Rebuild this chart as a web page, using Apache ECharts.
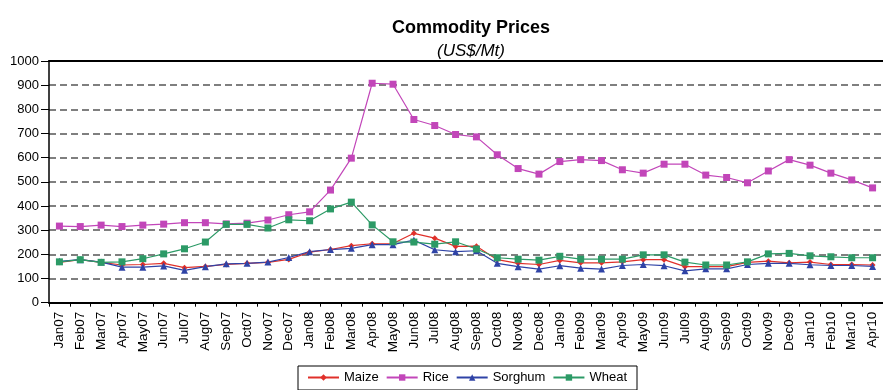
<!DOCTYPE html>
<html>
<head>
<meta charset="utf-8">
<script src="https://cdn.jsdelivr.net/npm/echarts@6/dist/echarts.min.js"></script>
<style>
  html, body { margin: 0; padding: 0; background: #fff; }
  #chart { width: 883px; height: 390px; }
</style>
</head>
<body>
<div id="chart"></div>
<script>
// Monthly commodity prices, US$ per metric tonne, Jan 2007 – Apr 2010
const months = [
  'Jan07','Feb07','Mar07','Apr07','May07','Jun07','Jul07','Aug07','Sep07','Oct07','Nov07','Dec07',
  'Jan08','Feb08','Mar08','Apr08','May08','Jun08','Jul08','Aug08','Sep08','Oct08','Nov08','Dec08',
  'Jan09','Feb09','Mar09','Apr09','May09','Jun09','Jul09','Aug09','Sep09','Oct09','Nov09','Dec09',
  'Jan10','Feb10','Mar10','Apr10'
];

const maize = [
  167, 178, 167, 156, 158, 163, 145, 150, 158, 163, 167, 179,
  209, 220, 236, 244, 245, 287, 267, 233, 234, 178, 163, 158,
  175, 165, 165, 169, 178, 178, 149, 149, 149, 167, 172, 165,
  168, 158, 158, 156
];

const rice = [
  317, 315, 321, 315, 321, 325, 331, 331, 326, 329, 342, 364,
  376, 466, 598, 908, 904, 758, 733, 696, 686, 612, 555, 532,
  584, 592, 588, 550, 536, 573, 573, 528, 518, 496, 545, 592,
  569, 536, 508, 475
];

const sorghum = [
  171, 178, 168, 147, 147, 152, 134, 149, 161, 163, 168, 187,
  211, 220, 225, 240, 240, 259, 219, 211, 215, 163, 149, 139,
  153, 143, 139, 154, 158, 153, 132, 140, 140, 158, 163, 163,
  157, 154, 154, 150
];

const wheat = [
  169, 178, 167, 169, 182, 202, 223, 251, 324, 324, 309, 343,
  339, 388, 416, 322, 252, 251, 242, 252, 222, 186, 180, 176,
  192, 180, 180, 180, 198, 198, 168, 156, 156, 169, 202, 204,
  194, 190, 186, 186
];

const yTicks = { min: 0, max: 1000, step: 100 };

const FONT = '"Liberation Sans", Arial, Helvetica, sans-serif';

function lineSeries(name, data, color, symbol, size) {
  return {
    name: name,
    type: 'line',
    data: data,
    xAxisIndex: 0,
    symbol: symbol,
    symbolSize: size,
    showAllSymbol: true,
    animation: false,
    lineStyle: { color: color, width: 1.2 },
    itemStyle: { color: color, borderWidth: 0 }
  };
}

const chart = echarts.init(document.getElementById('chart'), null, { renderer: 'canvas' });

chart.setOption({
  animation: false,
  backgroundColor: '#fff',
  textStyle: { fontFamily: FONT },
  title: [
    {
      text: 'Commodity Prices',
      left: 466, top: 14, textAlign: 'center',
      textStyle: { fontFamily: FONT, fontSize: 18, fontWeight: 'bold', color: '#000' }
    },
    {
      text: '(US$/Mt)',
      left: 466, top: 38, textAlign: 'center',
      textStyle: { fontFamily: FONT, fontSize: 17, fontStyle: 'italic', fontWeight: 'normal', color: '#000' }
    }
  ],
  legend: {
    left: 298, top: 366,
    padding: [5, 10, 6, 9],
    itemWidth: 31, itemHeight: 8, itemGap: 7,
    borderColor: '#000', borderWidth: 1,
    textStyle: { fontFamily: FONT, fontSize: 13, color: '#000' },
    data: ['Maize', 'Rice', 'Sorghum', 'Wheat']
  },
  grid: { left: 49, top: 61, width: 840, height: 241.7, containLabel: false },
  xAxis: [
    {
      type: 'category',
      data: months,
      boundaryGap: true,
      axisLine: { lineStyle: { color: '#000', width: 2 } },
      axisTick: { show: true, length: 4, lineStyle: { color: '#000', width: 1 } },
      axisLabel: {
        rotate: 90, interval: 0, margin: 9,
        fontFamily: FONT, fontSize: 13.5, color: '#000'
      },
      splitLine: { show: false }
    },
    {
      // frame line along the top of the plot
      type: 'category',
      data: months,
      position: 'top',
      axisLine: { lineStyle: { color: '#000', width: 2 } },
      axisTick: { show: false },
      axisLabel: { show: false },
      splitLine: { show: false }
    }
  ],
  yAxis: {
    type: 'value',
    min: yTicks.min, max: yTicks.max, interval: yTicks.step,
    axisLine: { show: true, lineStyle: { color: '#000', width: 1.5 } },
    axisTick: { show: true, length: 8, lineStyle: { color: '#000', width: 1 } },
    axisLabel: {
      margin: 10, fontFamily: FONT, fontSize: 13, color: '#000',
      formatter: function (v) { return String(v); }
    },
    splitLine: { show: true, lineStyle: { color: '#555', width: 1.5, type: [7, 4] } }
  },
  series: [
    lineSeries('Maize', maize, '#e0302a', 'diamond', 6),
    lineSeries('Rice', rice, '#c246b9', 'rect', 7),
    lineSeries('Sorghum', sorghum, '#2f43a6', 'triangle', 7),
    lineSeries('Wheat', wheat, '#2c9a66', 'rect', 7)
  ]
});
</script>
</body>
</html>
